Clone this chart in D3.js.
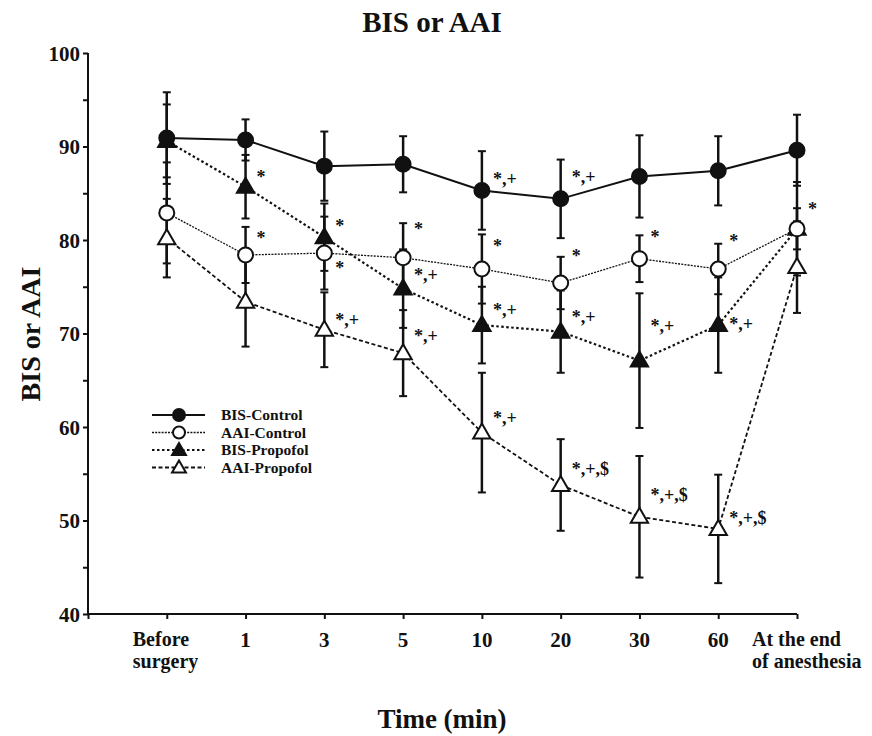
<!DOCTYPE html>
<html>
<head>
<meta charset="utf-8">
<script src="https://cdn.jsdelivr.net/npm/d3@7"></script>
<style>
  body { margin: 0; background: #fff; }
  text { font-family: "Liberation Serif", "DejaVu Serif", serif; font-weight: bold; fill: #111; }
</style>
</head>
<body>
<svg id="chart" width="872" height="736"></svg>
<script>
const categories = ["Before surgery", "1", "3", "5", "10", "20", "30", "60", "At the end of anesthesia"];

const bisControl = [90.9, 90.7, 87.9, 88.1, 85.3, 84.4, 86.8, 87.4, 89.6];
const bisControlSd = [4.9, 2.2, 3.7, 3.0, 4.2, 4.2, 4.4, 3.7, 3.8];
const aaiControl = [82.9, 78.4, 78.6, 78.1, 76.9, 75.4, 78.0, 76.9, 81.2];
const aaiControlSd = [5.4, 3.0, 3.9, 3.7, 3.7, 2.8, 2.5, 2.7, 2.2];
const bisPropofol = [90.6, 85.7, 80.3, 74.8, 70.9, 70.2, 67.1, 70.9, 81.2];
const bisPropofolSd = [3.9, 3.4, 3.6, 4.2, 4.1, 4.4, 7.2, 5.1, 5.0];
const aaiPropofol = [80.2, 73.4, 70.4, 67.9, 59.4, 53.8, 50.4, 49.1, 77.1];
const aaiPropofolSd = [4.2, 4.8, 4.0, 4.6, 6.4, 4.9, 6.5, 5.8, 4.9];

const yTicks = [40, 50, 60, 70, 80, 90, 100];

// significance marks: [category index, y value, text]
const marks = [
    [1, 86.8, "*"], [1, 80.2, "*"],
    [2, 81.5, "*"], [2, 77.0, "*"], [2, 71.5, "*,+"],
    [3, 81.2, "*"], [3, 76.3, "*,+"], [3, 69.8, "*,+"],
    [4, 86.6, "*,+"], [4, 79.4, "*"], [4, 72.5, "*,+"], [4, 61.0, "*,+"],
    [5, 86.8, "*,+"], [5, 78.3, "*"], [5, 71.8, "*,+"], [5, 55.5, "*,+,$"],
    [6, 80.3, "*"], [6, 70.8, "*,+"], [6, 52.8, "*,+,$"],
    [7, 79.9, "*"], [7, 71.0, "*,+"], [7, 50.3, "*,+,$"],
    [8, 83.4, "*"]
];

const series = [
    { name: "BIS-Control", mean: bisControl, sd: bisControlSd, marker: "circle", fill: "#111", dash: null, width: 2 },
    { name: "AAI-Control", mean: aaiControl, sd: aaiControlSd, marker: "circle", fill: "#fff", dash: "2,1.2", width: 1.3 },
    { name: "BIS-Propofol", mean: bisPropofol, sd: bisPropofolSd, marker: "triangle", fill: "#111", dash: "2.5,2.5", width: 2.2 },
    { name: "AAI-Propofol", mean: aaiPropofol, sd: aaiPropofolSd, marker: "triangle", fill: "#fff", dash: "4,2.5", width: 1.8 }
];

const svg = d3.select("#chart");

const x = d3.scaleLinear().domain([-1, categories.length - 1]).range([88, 797]);
const y = d3.scaleLinear().domain([40, 100]).range([614, 53]);

svg.append("text")
    .attr("x", 432).attr("y", 32)
    .attr("text-anchor", "middle")
    .style("font-size", "29px")
    .text("BIS or AAI");

// y axis
const yAxis = d3.axisLeft(y).tickValues(d3.range(40, 101, 5)).tickSize(5).tickFormat(d => yTicks.includes(d) ? d : "");
const gy = svg.append("g").attr("transform", "translate(88,0)").call(yAxis);
gy.select(".domain").attr("stroke", "#111").attr("stroke-width", 2).attr("d", "M0,53V614");
gy.selectAll(".tick line").attr("stroke", "#111").attr("stroke-width", 2);
gy.selectAll(".tick text").attr("x", -8).attr("dy", "0.35em")
    .style("font-size", "21px").style("font-family", "Liberation Serif").style("font-weight", "bold");

// x axis
const xAxis = d3.axisBottom(x).tickValues(d3.range(-1, categories.length)).tickSize(5).tickFormat("");
const gx = svg.append("g").attr("transform", "translate(0,614)").call(xAxis);
gx.select(".domain").attr("stroke", "#111").attr("stroke-width", 2).attr("d", "M88,0H797");
gx.selectAll(".tick line").attr("stroke", "#111").attr("stroke-width", 2);

categories.forEach((c, i) => {
    if (i === 0 || i === categories.length - 1) {
        const lines = i === 0 ? ["Before", "surgery"] : ["At the end", "of anesthesia"];
        const lx = i === 0 ? x(i) - 34 : x(i) - 45;
        const t = svg.append("text")
            .attr("x", lx)
            .attr("y", 646)
            .style("font-size", "20px");
        lines.forEach((l, k) => t.append("tspan").attr("x", lx).attr("dy", k === 0 ? 0 : 22).text(l));
    } else {
        svg.append("text")
            .attr("x", x(i)).attr("y", 647)
            .attr("text-anchor", "middle")
            .style("font-size", "21px")
            .text(c);
    }
});

svg.append("text")
    .attr("transform", "translate(40,334) rotate(-90)")
    .attr("text-anchor", "middle")
    .style("font-size", "28px")
    .text("BIS or AAI");

svg.append("text")
    .attr("x", 442).attr("y", 728)
    .attr("text-anchor", "middle")
    .style("font-size", "27px")
    .text("Time (min)");

function drawMarker(g, s, cx, cy, scale) {
    if (s.marker === "circle") {
        g.append("circle").attr("cx", cx).attr("cy", cy).attr("r", 7.5 * scale)
            .attr("fill", s.fill).attr("stroke", "#111").attr("stroke-width", 2);
    } else {
        g.append("path").attr("d", d3.symbol().type(d3.symbolTriangle).size(130 * scale * scale)())
            .attr("transform", `translate(${cx},${cy + 1})`)
            .attr("fill", s.fill).attr("stroke", "#111").attr("stroke-width", 2);
    }
}

// error bars
series.forEach(s => {
    const g = svg.append("g");
    s.mean.forEach((m, i) => {
        const top = y(m + s.sd[i]), bot = y(m - s.sd[i]);
        g.append("line").attr("x1", x(i)).attr("x2", x(i)).attr("y1", top).attr("y2", bot)
            .attr("stroke", "#111").attr("stroke-width", 2.5);
        [top, bot].forEach(v => g.append("line")
            .attr("x1", x(i) - 4).attr("x2", x(i) + 4).attr("y1", v).attr("y2", v)
            .attr("stroke", "#111").attr("stroke-width", 2));
    });
});

// lines
const line = d3.line().x((d, i) => x(i)).y(d => y(d));
series.forEach(s => {
    svg.append("path").datum(s.mean).attr("d", line)
        .attr("fill", "none").attr("stroke", "#111")
        .attr("stroke-width", s.width)
        .attr("stroke-dasharray", s.dash);
});

// markers
series.slice().reverse().forEach(s => {
    const g = svg.append("g");
    s.mean.forEach((m, i) => drawMarker(g, s, x(i), y(m), 1));
});

// significance marks
marks.forEach(([i, v, t]) => {
    svg.append("text")
        .attr("x", x(i) + 11).attr("y", y(v))
        .attr("dy", "0.35em")
        .style("font-size", "18px")
        .text(t);
});

// legend
const legend = svg.append("g");
series.forEach((s, k) => {
    const ly = 415 + k * 17.5;
    legend.append("line").attr("x1", 152).attr("x2", 205).attr("y1", ly).attr("y2", ly)
        .attr("stroke", "#111").attr("stroke-width", s.width).attr("stroke-dasharray", s.dash);
    drawMarker(legend, s, 179, ly, 0.8);
    legend.append("text").attr("x", 221).attr("y", ly).attr("dy", "0.35em")
        .style("font-size", "15.5px").text(s.name);
});
</script>
</body>
</html>
